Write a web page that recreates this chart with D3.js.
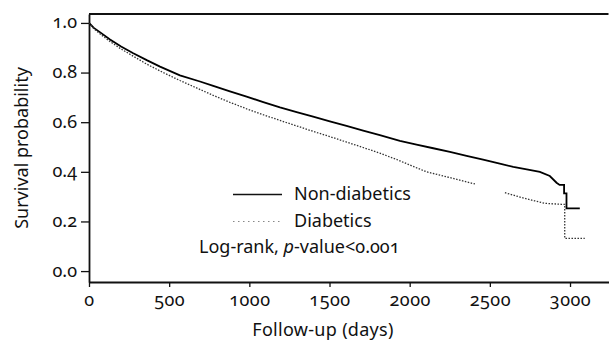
<html>
<head>
<script src="https://d3js.org/d3.v7.min.js"></script>
<style>
  body { margin: 0; background: #fff; }
  svg { display: block; font-family: 'Noto Sans', sans-serif; }
</style>
</head>
<body>
<svg width="611" height="341"></svg>
<script>
// Kaplan-Meier curves (days, survival)
var nonDays = [0, 30, 70, 131, 200, 276, 360, 443, 567, 692, 775, 879, 983, 1087, 1191, 1295, 1398, 1502, 1606, 1710, 1814, 1939, 2043, 2147, 2251, 2355, 2458, 2562, 2646, 2730, 2812, 2874, 2916, 2935, 2963, 2963, 2978, 2978, 3061];
var nonSurv = [1.0, 0.980, 0.962, 0.933, 0.905, 0.878, 0.850, 0.824, 0.789, 0.764, 0.746, 0.724, 0.703, 0.681, 0.660, 0.641, 0.622, 0.603, 0.585, 0.566, 0.548, 0.525, 0.510, 0.495, 0.480, 0.464, 0.449, 0.433, 0.420, 0.410, 0.400, 0.383, 0.356, 0.347, 0.347, 0.313, 0.313, 0.253, 0.253];

var diaDays = [0, 30, 70, 131, 200, 276, 360, 463, 567, 671, 775, 879, 983, 1087, 1191, 1295, 1398, 1502, 1606, 1710, 1814, 1918, 2010, 2105, 2230, 2407, 2500, 2594, 2700, 2780, 2843, 2947, 2967, 2967, 3092];
var diaSurv = [1.0, 0.977, 0.955, 0.925, 0.895, 0.866, 0.834, 0.800, 0.768, 0.738, 0.708, 0.680, 0.654, 0.630, 0.607, 0.585, 0.563, 0.542, 0.520, 0.498, 0.475, 0.450, 0.425, 0.400, 0.380, 0.351, null, 0.316, 0.296, 0.283, 0.273, 0.269, 0.269, 0.132, 0.132];

var xTicks = [0, 500, 1000, 1500, 2000, 2500, 3000];
var yTicks = [0.0, 0.2, 0.4, 0.6, 0.8, 1.0];

var svg = d3.select("svg");

var x = d3.scaleLinear().domain([0, 3240]).range([89, 608.5]);
var y = d3.scaleLinear().domain([-0.044, 1.036]).range([282, 14]);

// frame top
svg.append("line")
  .attr("x1", x.range()[0]).attr("x2", x.range()[1])
  .attr("y1", y.range()[1]).attr("y2", y.range()[1])
  .attr("stroke", "#111").attr("stroke-width", 1.8);

var xAxis = d3.axisBottom(x).tickValues(xTicks).tickSize(5).tickSizeOuter(0).tickPadding(6)
  .tickFormat(d3.format("d"));
var yAxis = d3.axisLeft(y).tickValues(yTicks).tickSize(8).tickSizeOuter(0).tickPadding(4)
  .tickFormat(d3.format(".1f"));

var gx = svg.append("g").attr("transform", "translate(0," + y.range()[0] + ")").call(xAxis);
var gy = svg.append("g").attr("transform", "translate(" + x.range()[0] + ",0)").call(yAxis);

[gx, gy].forEach(function(g) {
  g.attr("font-family", null).attr("font-size", null);
  g.select(".domain").attr("stroke", "#111").attr("stroke-width", 1.8);
  g.selectAll(".tick line").attr("stroke", "#111").attr("stroke-width", 1.3);
  g.selectAll(".tick text").attr("fill", "#111").attr("font-size", 18);
});
gy.selectAll(".tick text").attr("dy", "0.28em");
gx.selectAll(".tick text").attr("letter-spacing", 0.5);

// curves
var line = d3.line()
  .defined(function(d) { return d[1] != null; })
  .x(function(d) { return x(d[0]); })
  .y(function(d) { return y(d[1]); });

svg.append("path")
  .datum(d3.zip(nonDays, nonSurv))
  .attr("d", line)
  .attr("fill", "none")
  .attr("stroke", "#000")
  .attr("stroke-width", 1.8);

svg.append("path")
  .datum(d3.zip(diaDays, diaSurv))
  .attr("d", line)
  .attr("fill", "none")
  .attr("stroke", "#333")
  .attr("stroke-width", 1.3)
  .attr("stroke-dasharray", "1.5,1.5");

// legend
var leg = svg.append("g");
leg.append("line").attr("x1", 233).attr("x2", 282).attr("y1", 194.5).attr("y2", 194.5)
  .attr("stroke", "#111").attr("stroke-width", 1.3);
leg.append("line").attr("x1", 233).attr("x2", 282).attr("y1", 221.5).attr("y2", 221.5)
  .attr("stroke", "#888").attr("stroke-width", 1.2).attr("stroke-dasharray", "1.5,3.5");
leg.append("text").attr("x", 294).attr("y", 200).attr("font-size", 18).attr("fill", "#111").text("Non-diabetics");
leg.append("text").attr("x", 294).attr("y", 227).attr("font-size", 18).attr("fill", "#111").text("Diabetics");
var lr = leg.append("text").attr("x", 199).attr("y", 253).attr("font-size", 18).attr("fill", "#111");
lr.append("tspan").text("Log-rank, ");
lr.append("tspan").attr("font-style", "italic").text("p");
lr.append("tspan").text("-value<0.001");

// axis titles
svg.append("text")
  .attr("x", 323).attr("y", 336)
  .attr("text-anchor", "middle").attr("font-size", 18).attr("fill", "#111")
  .attr("letter-spacing", 0.3)
  .text("Follow-up (days)");

svg.append("text")
  .attr("transform", "translate(28,148) rotate(-90)")
  .attr("text-anchor", "middle").attr("font-size", 18).attr("fill", "#111")
  .text("Survival probability");

// old-style figures everywhere, as in the source figure
svg.selectAll("text")
  .style("font-family", "'Noto Sans', sans-serif")
  .style("font-feature-settings", "'onum' 1");
</script>
</body>
</html>
